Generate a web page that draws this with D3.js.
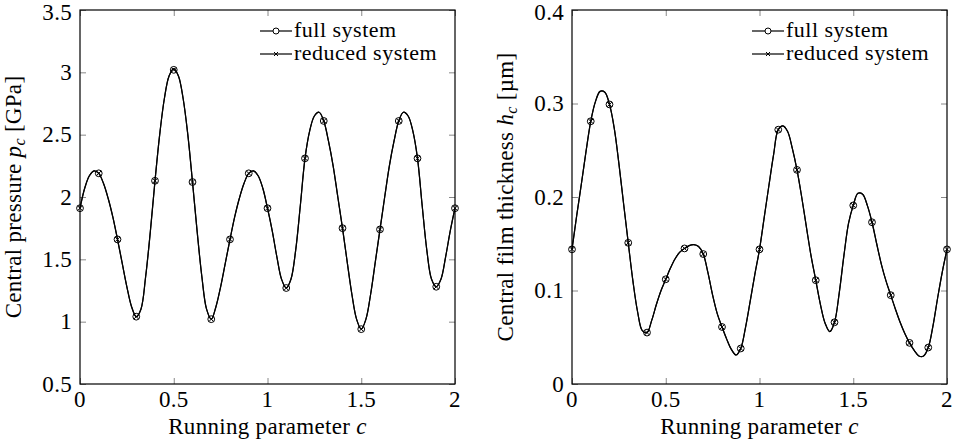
<!DOCTYPE html>
<html>
<head>
<meta charset="utf-8">
<script src="https://cdn.jsdelivr.net/npm/d3@7"></script>
<style>
  html, body { margin: 0; padding: 0; background: #fff; }
  svg { display: block; }
  text { font-family: "Liberation Serif", "Times New Roman", serif; fill: #000; letter-spacing: 0.3px; }
</style>
</head>
<body>
<svg id="chart" width="957" height="444"></svg>
<script>
// ---------- data ----------
// marker positions (running parameter c)
const markerC = [0,0.1,0.2,0.3,0.4,0.5,0.6,0.7,0.8,0.9,1.0,1.1,1.2,1.3,1.4,1.5,1.6,1.7,1.8,1.9,2.0];
// dense curve positions
const curveC = [0,0.025,0.05,0.075,0.1,0.125,0.15,0.175,0.2,0.225,0.25,0.275,0.3,0.325,0.35,0.375,0.4,0.425,0.45,0.475,0.5,
  0.525,0.55,0.575,0.6,0.625,0.65,0.675,0.7,0.725,0.75,0.775,0.8,0.825,0.85,0.875,0.9,0.925,0.95,0.975,1.0,
  1.025,1.05,1.075,1.1,1.125,1.15,1.175,1.2,1.225,1.25,1.275,1.3,1.325,1.35,1.375,1.4,1.425,1.45,1.475,1.5,
  1.525,1.55,1.575,1.6,1.625,1.65,1.675,1.7,1.725,1.75,1.775,1.8,1.825,1.85,1.875,1.9,1.925,1.95,1.975,2.0];

// central pressure [GPa]
const pressureFullCurve = [1.91,2.07,2.17,2.21,2.19,2.11,1.99,1.84,1.66,1.47,1.28,1.12,1.04,1.10,1.36,1.72,2.13,2.50,2.79,2.97,3.03,
  2.97,2.79,2.50,2.12,1.72,1.36,1.10,1.02,1.12,1.28,1.47,1.66,1.84,1.99,2.11,2.19,2.21,2.17,2.07,1.91,
  1.73,1.52,1.34,1.27,1.34,1.57,1.93,2.31,2.53,2.65,2.68,2.61,2.45,2.25,2.00,1.75,1.48,1.22,1.02,0.94,
  1.02,1.22,1.48,1.74,2.00,2.25,2.45,2.61,2.68,2.65,2.53,2.31,1.93,1.57,1.34,1.28,1.34,1.52,1.73,1.91];
const pressureReducedCurve = pressureFullCurve.slice();
const pressureFullMarks = [1.91,2.19,1.66,1.04,2.13,3.02,2.12,1.02,1.66,2.19,1.91,1.27,2.31,2.61,1.75,0.94,1.74,2.61,2.31,1.28,1.91];
const pressureReducedMarks = [1.91,2.19,1.66,1.04,2.13,3.02,2.12,1.02,1.66,2.19,1.91,1.27,2.31,2.61,1.75,0.94,1.74,2.61,2.31,1.28,1.91];

// central film thickness [µm]
const thicknessFullCurve = [0.144,0.180,0.214,0.249,0.281,0.302,0.313,0.312,0.299,0.274,0.236,0.193,0.151,0.110,0.077,0.057,0.055,0.068,0.085,0.100,0.112,
  0.124,0.134,0.141,0.145,0.148,0.149,0.147,0.139,0.119,0.095,0.075,0.061,0.048,0.037,0.031,0.038,0.060,0.088,0.117,0.144,
  0.178,0.212,0.245,0.272,0.276,0.270,0.252,0.229,0.200,0.168,0.137,0.111,0.085,0.065,0.056,0.066,0.097,0.137,0.172,0.191,
  0.204,0.203,0.191,0.173,0.150,0.128,0.110,0.095,0.080,0.066,0.054,0.044,0.036,0.030,0.030,0.039,0.062,0.092,0.120,0.144];
const thicknessReducedCurve = thicknessFullCurve.slice();
const thicknessFullMarks = [0.144,0.281,0.299,0.151,0.055,0.112,0.145,0.139,0.061,0.038,0.144,0.272,0.229,0.111,0.066,0.191,0.173,0.095,0.044,0.039,0.144];
const thicknessReducedMarks = [0.144,0.281,0.299,0.151,0.055,0.112,0.145,0.139,0.061,0.038,0.144,0.272,0.229,0.111,0.066,0.191,0.173,0.095,0.044,0.039,0.144];

const xTicks = [0, 0.5, 1, 1.5, 2];
const xTickLabels = ["0", "0.5", "1", "1.5", "2"];
const pressureTicks = [0.5, 1, 1.5, 2, 2.5, 3, 3.5];
const pressureTickLabels = ["0.5", "1", "1.5", "2", "2.5", "3", "3.5"];
const thicknessTicks = [0, 0.1, 0.2, 0.3, 0.4];
const thicknessTickLabels = ["0", "0.1", "0.2", "0.3", "0.4"];
const legendLabels = ["full system", "reduced system"];
const xLabel = "Running parameter ";

// ---------- drawing ----------
const svg = d3.select("#chart");
const FS = 23;
const LFS = 22;

function panel(opts) {
  const g = svg.append("g");
  const x = d3.scaleLinear().domain([0, 2]).range([opts.left, opts.left + 375]);
  const y = d3.scaleLinear().domain(opts.yDomain).range([384, 10]);

  // ticks (inward, mirrored) using axes
  const tickLen = 6;
  const mk = (axis, transform) => {
    const a = g.append("g").attr("transform", transform).call(axis);
    a.select(".domain").remove();
    a.selectAll(".tick line").attr("stroke", "#888").attr("stroke-width", 1);
    a.selectAll("text").remove();
    return a;
  };
  mk(d3.axisBottom(x).tickValues(xTicks).tickSize(-tickLen), `translate(0,384)`);
  mk(d3.axisTop(x).tickValues(xTicks).tickSize(-tickLen), `translate(0,10)`);
  mk(d3.axisLeft(y).tickValues(opts.yTicks).tickSize(-tickLen), `translate(${opts.left},0)`);
  mk(d3.axisRight(y).tickValues(opts.yTicks).tickSize(-tickLen), `translate(${opts.left + 375},0)`);

  // tick labels
  g.selectAll(".xl").data(xTicks).enter().append("text")
    .attr("x", d => x(d)).attr("y", 407).attr("text-anchor", "middle")
    .attr("font-size", FS).text((d, i) => xTickLabels[i]);
  const yTop = opts.yTicks[opts.yTicks.length - 1];
  g.selectAll(".yl").data(opts.yTicks).enter().append("text")
    .attr("x", opts.left - 8).attr("y", d => y(d) + (d === yTop ? 2 : 0)).attr("dy", "0.33em").attr("text-anchor", "end")
    .attr("font-size", FS).text((d, i) => opts.yTickLabels[i]);

  // curves
  const line = d3.line().x((d, i) => x(curveC[i])).y(d => y(d)).curve(d3.curveCatmullRom.alpha(0.5));
  g.append("path").attr("d", line(opts.fullCurve)).attr("fill", "none").attr("stroke", "#000").attr("stroke-width", 1.2);
  g.append("path").attr("d", line(opts.reducedCurve)).attr("fill", "none").attr("stroke", "#000").attr("stroke-width", 1.2);

  // markers
  g.selectAll(".mo").data(opts.fullMarks).enter().append("circle")
    .attr("cx", (d, i) => x(markerC[i])).attr("cy", d => y(d)).attr("r", 3.4)
    .attr("fill", "none").attr("stroke", "#000").attr("stroke-width", 1);
  const s = 2.4;
  g.selectAll(".mx").data(opts.reducedMarks).enter().append("path")
    .attr("d", (d, i) => {
      const cx = x(markerC[i]), cy = y(d);
      return `M${cx - s},${cy - s}L${cx + s},${cy + s}M${cx - s},${cy + s}L${cx + s},${cy - s}`;
    })
    .attr("stroke", "#000").attr("stroke-width", 1);

  // frame
  g.append("rect").attr("x", opts.left).attr("y", 10).attr("width", 375).attr("height", 374)
    .attr("fill", "none").attr("stroke", "#000").attr("stroke-width", 1.2);

  // legend
  const lx = opts.left + 180;
  legendLabels.forEach((lab, i) => {
    const ly = 31 + i * 23;
    g.append("line").attr("x1", lx).attr("x2", lx + 32).attr("y1", ly).attr("y2", ly)
      .attr("stroke", "#000").attr("stroke-width", 1.2);
    const cx = lx + 16;
    if (i === 0) {
      g.append("circle").attr("cx", cx).attr("cy", ly).attr("r", 3).attr("fill", "#fff")
        .attr("stroke", "#000").attr("stroke-width", 1);
    } else {
      const t = 2;
      g.append("path").attr("d", `M${cx - t},${ly - t}L${cx + t},${ly + t}M${cx - t},${ly + t}L${cx + t},${ly - t}`)
        .attr("stroke", "#000").attr("stroke-width", 1);
    }
    g.append("text").attr("x", lx + 34).attr("y", ly + 6).attr("font-size", LFS)
      .style("letter-spacing", "0.5px").text(lab);
  });

  // x label
  const xt = g.append("text").attr("x", opts.left + 187.5).attr("y", 434).attr("text-anchor", "middle").attr("font-size", FS);
  xt.append("tspan").text(xLabel);
  xt.append("tspan").attr("font-style", "italic").text("c");

  // y label
  const yt = g.append("text").attr("transform", `translate(${opts.yLabelX},197) rotate(-90)`)
    .attr("text-anchor", "middle").attr("font-size", FS);
  yt.append("tspan").text(opts.yLabel[0]);
  yt.append("tspan").attr("font-style", "italic").text(opts.yLabel[1]);
  yt.append("tspan").attr("font-style", "italic").attr("font-size", FS * 0.7).attr("dy", 4).text("c");
  yt.append("tspan").attr("dy", -4).text(opts.yLabel[2]);
}

panel({
  left: 80, yDomain: [0.5, 3.5], yTicks: pressureTicks, yTickLabels: pressureTickLabels,
  fullCurve: pressureFullCurve, reducedCurve: pressureReducedCurve,
  fullMarks: pressureFullMarks, reducedMarks: pressureReducedMarks,
  yLabelX: 21, yLabel: ["Central pressure ", "p", " [GPa]"]
});
panel({
  left: 572, yDomain: [0, 0.4], yTicks: thicknessTicks, yTickLabels: thicknessTickLabels,
  fullCurve: thicknessFullCurve, reducedCurve: thicknessReducedCurve,
  fullMarks: thicknessFullMarks, reducedMarks: thicknessReducedMarks,
  yLabelX: 513, yLabel: ["Central film thickness ", "h", " [µm]"]
});
</script>
</body>
</html>
